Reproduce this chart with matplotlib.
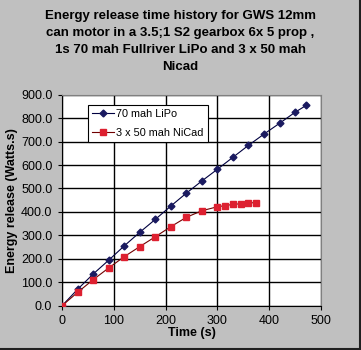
import matplotlib
matplotlib.use("Agg")
import matplotlib.pyplot as plt

# data
lipo_t = [0, 30, 60, 90, 120, 150, 180, 210, 240, 270, 300, 330, 360, 390, 420, 450, 472]
lipo_e = [0, 70, 135, 194, 255, 313, 368, 425, 480, 532, 582, 633, 684, 732, 778, 825, 855]
nicad_t = [0, 30, 60, 90, 120, 150, 180, 210, 240, 270, 300, 315, 330, 345, 360, 375]
nicad_e = [0, 57, 111, 161, 209, 252, 294, 337, 377, 405, 422, 427, 432, 435, 439, 439]

x_ticks = [0, 100, 200, 300, 400, 500]
y_ticks = [0, 100, 200, 300, 400, 500, 600, 700, 800, 900]

title = ("Energy release time history for GWS 12mm\n"
         "can motor in a 3.5;1 S2 gearbox 6x 5 prop ,\n"
         "1s 70 mah Fullriver LiPo and 3 x 50 mah\n"
         "Nicad")

plt.rcParams['font.family'] = ['Liberation Sans', 'DejaVu Sans']

fig = plt.figure(figsize=(3.61, 3.5), dpi=100, facecolor='#c0c0c0')
ax = fig.add_axes([0.172, 0.1266, 0.717, 0.6028])
ax.set_facecolor('white')

ax.plot(lipo_t, lipo_e, color='#000040', lw=0.8, marker='D', ms=3.5,
        mfc='#1a1a60', mec='#1a1a60', label='70 mah LiPo', zorder=3)
ax.plot(nicad_t, nicad_e, color='#700000', lw=0.8, marker='s', ms=4,
        mfc='#dd2030', mec='#dd2030', label='3 x 50 mah NiCad', zorder=3)

ax.set_xlim(0, 500)
ax.set_ylim(0, 900)
ax.set_xticks(x_ticks)
ax.set_yticks(y_ticks)
ax.set_yticklabels([f"{v:.1f}" for v in y_ticks])
ax.tick_params(labelsize=9, length=3, width=0.8, color='black', pad=4)
ax.grid(True, color='black', lw=1.0)
ax.set_axisbelow(True)

for s in ['top', 'right']:
    ax.spines[s].set_color('#808080')
for s in ['left', 'bottom']:
    ax.spines[s].set_color('black')

ax.set_xlabel('Time (s)', fontsize=9, fontweight='bold', labelpad=0)
ax.set_ylabel('Energy release (Watts.s)', fontsize=9, fontweight='bold', labelpad=2)

leg = ax.legend(loc='upper left', bbox_to_anchor=(0.1, 0.953), fontsize=7.8,
                frameon=True, fancybox=False, edgecolor='black', framealpha=1,
                handlelength=2.0, borderpad=0.4, labelspacing=0.8, handletextpad=0.2,
                borderaxespad=0)
leg.get_frame().set_linewidth(0.8)

fig.text(0.5, 0.972, title, ha='center', va='top', fontsize=9.5,
         fontweight='bold', linespacing=1.55)

# figure border on bottom and right
fig.add_artist(plt.Line2D([0, 1], [0.004, 0.004], color='#202020', lw=1.5,
                          transform=fig.transFigure))
fig.add_artist(plt.Line2D([0.996, 0.996], [0, 1], color='#202020', lw=1.5,
                          transform=fig.transFigure))

fig.savefig('out.png', dpi=100, facecolor=fig.get_facecolor())
